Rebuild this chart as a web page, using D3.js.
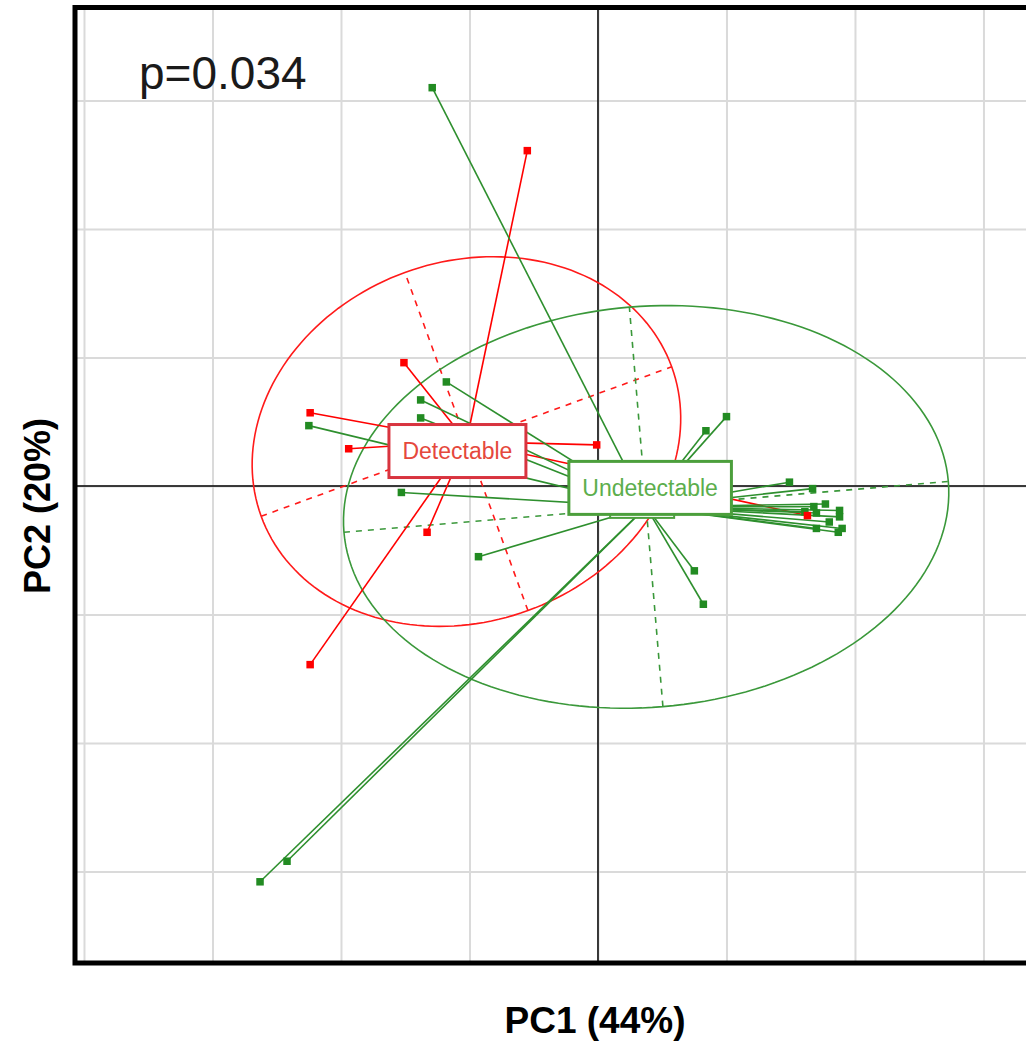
<!DOCTYPE html>
<html>
<head>
<meta charset="utf-8">
<script src="https://cdn.jsdelivr.net/npm/d3@7"></script>
<style>
  html, body { margin: 0; padding: 0; background: #fff; }
  svg { display: block; }
  .grid line { stroke: #dadada; stroke-width: 2; }
  .grid path { display: none; }
</style>
</head>
<body>
<svg id="chart" width="1026" height="1041"></svg>
<script>
// --- data (PC scores) ---
const groupNames = ["Detectable", "Undetectable"];

const detectableX = [-2.24, -1.94, -1.51, -0.55, -1.33, -2.24, -0.01, 1.63];
const detectableY = [0.57, 0.29, 0.96, 2.61, -0.36, -1.39, 0.32, -0.23];

const undetectableX = [-1.29, -2.25, -1.38, -1.38, -1.18, -1.53, -0.93, -2.63, -2.42,
  0.84, 1.00, 0.75, 0.82,
  1.49, 1.67, 1.77, 1.68, 1.88, 1.61, 1.70, 1.88, 1.80, 1.90, 1.70, 1.87];
const undetectableY = [3.10, 0.47, 0.67, 0.53, 0.81, -0.05, -0.55, -3.08, -2.92,
  0.43, 0.54, -0.66, -0.92,
  0.03, -0.02, -0.14, -0.16, -0.19, -0.20, -0.21, -0.24, -0.28, -0.33, -0.33, -0.36];

// ellipse semi-axes (PC units) and tilt (degrees)
const ellipseA = [1.70, 2.36];
const ellipseB = [1.40, 1.56];
const ellipseAngle = [20, 4.8];

const xGrid = [-4, -3, -2, -1, 0, 1, 2, 3];
const yGrid = [-3, -2, -1, 0, 1, 2, 3];

const pLabel = "p=0.034";
const xTitle = "PC1 (44%)";
const yTitle = "PC2 (20%)";

// --- layout ---
const svg = d3.select("#chart");
const panel = { left: 75, top: 7.5, right: 1030.5, bottom: 963 };

const x = d3.scaleLinear().domain([-4.07, 3.366]).range([panel.left, panel.right]);
const y = d3.scaleLinear().domain([-3.712, 3.724]).range([panel.bottom, panel.top]);

const colors = {
  point: ["#ff0000", "#228b22"],
  line: ["#ff0000", "#2e8f2e"],
  ellipse: ["#ff1a1a", "#3a983a"],
  labelStroke: ["#d8343f", "#4c9f3c"],
  labelText: ["#e5483c", "#5cae4c"]
};

svg.append("defs").append("clipPath").attr("id", "clip")
  .append("rect")
  .attr("x", panel.left).attr("y", panel.top)
  .attr("width", panel.right - panel.left).attr("height", panel.bottom - panel.top);

const plot = svg.append("g").attr("clip-path", "url(#clip)");

// grid
plot.append("g").attr("class", "grid")
  .attr("transform", `translate(0,${panel.bottom})`)
  .call(d3.axisBottom(x).tickValues(xGrid).tickSize(-(panel.bottom - panel.top)).tickFormat(""));
plot.append("g").attr("class", "grid")
  .attr("transform", `translate(${panel.left},0)`)
  .call(d3.axisLeft(y).tickValues(yGrid).tickSize(-(panel.right - panel.left)).tickFormat(""));

// zero lines
plot.append("line")
  .attr("x1", x(0)).attr("x2", x(0)).attr("y1", panel.top).attr("y2", panel.bottom)
  .attr("stroke", "#000").attr("stroke-width", 1.5);
plot.append("line")
  .attr("x1", panel.left).attr("x2", panel.right).attr("y1", y(0)).attr("y2", y(0))
  .attr("stroke", "#000").attr("stroke-width", 1.5);

// groups
const groups = [
  { name: groupNames[0], xs: detectableX, ys: detectableY },
  { name: groupNames[1], xs: undetectableX, ys: undetectableY }
].map((g, i) => {
  g.i = i;
  g.pts = g.xs.map((v, k) => [v, g.ys[k]]);
  g.cx = d3.mean(g.xs);
  g.cy = d3.mean(g.ys);
  return g;
});

const line = d3.line().x(d => x(d[0])).y(d => y(d[1]));

// ellipses with dashed axes
groups.forEach(g => {
  const a = ellipseA[g.i], b = ellipseB[g.i];
  const t = ellipseAngle[g.i] * Math.PI / 180;
  const ring = d3.range(0, 361, 2).map(deg => {
    const u = deg * Math.PI / 180;
    const ex = a * Math.cos(u), ey = b * Math.sin(u);
    return [g.cx + ex * Math.cos(t) - ey * Math.sin(t), g.cy + ex * Math.sin(t) + ey * Math.cos(t)];
  });
  plot.append("path").attr("d", line(ring))
    .attr("fill", "none").attr("stroke", colors.ellipse[g.i]).attr("stroke-width", 1.6);

  const major = [[g.cx - a * Math.cos(t), g.cy - a * Math.sin(t)], [g.cx + a * Math.cos(t), g.cy + a * Math.sin(t)]];
  const minor = [[g.cx + b * Math.sin(t), g.cy - b * Math.cos(t)], [g.cx - b * Math.sin(t), g.cy + b * Math.cos(t)]];
  [major, minor].forEach(seg => {
    plot.append("path").attr("d", line(seg))
      .attr("fill", "none").attr("stroke", colors.ellipse[g.i])
      .attr("stroke-width", 1.6).attr("stroke-dasharray", "6,6");
  });
});

// star lines (centroid -> sample)
groups.forEach(g => {
  plot.append("g").selectAll("line")
    .data(g.pts).enter().append("line")
    .attr("x1", x(g.cx)).attr("y1", y(g.cy))
    .attr("x2", d => x(d[0])).attr("y2", d => y(d[1]))
    .attr("stroke", colors.line[g.i]).attr("stroke-width", 1.6);
});

// points (squares) - green first, red on top where hidden
[groups[1], groups[0]].forEach(g => {
  plot.append("g").selectAll("rect")
    .data(g.pts).enter().append("rect")
    .attr("x", d => x(d[0]) - 3.75).attr("y", d => y(d[1]) - 3.75)
    .attr("width", 7.5).attr("height", 7.5)
    .attr("fill", colors.point[g.i]);
});

// group labels
const labelOffset = [[-9, 9.5], [4, -19]];
const labelFont = "Helvetica, 'Liberation Sans', Arial, sans-serif";

// small shadow box sitting under the Undetectable label
const ug = groups[1];
plot.append("rect")
  .attr("x", x(ug.cx) - 36).attr("y", y(ug.cy) - 6)
  .attr("width", 64).attr("height", 17)
  .attr("fill", "#fff").attr("stroke", colors.labelStroke[1]).attr("stroke-width", 2);

groups.forEach(g => {
  const lx = x(g.cx) + labelOffset[g.i][0];
  const ly = y(g.cy) + labelOffset[g.i][1];
  const lab = plot.append("g");
  const rect = lab.append("rect");
  const txt = lab.append("text")
    .attr("x", lx).attr("y", ly + 8)
    .attr("text-anchor", "middle")
    .attr("font-family", labelFont)
    .attr("font-size", 23)
    .attr("fill", colors.labelText[g.i])
    .text(g.name);
  const w = txt.node().getComputedTextLength() + 27;
  rect.attr("x", lx - w / 2).attr("y", ly - 26.5)
    .attr("width", w).attr("height", 53)
    .attr("fill", "#fff")
    .attr("stroke", colors.labelStroke[g.i]).attr("stroke-width", 3);
});

// panel border (left, top, bottom visible)
svg.append("rect")
  .attr("x", panel.left).attr("y", panel.top)
  .attr("width", panel.right - panel.left).attr("height", panel.bottom - panel.top)
  .attr("fill", "none").attr("stroke", "#000").attr("stroke-width", 5);

// texts
svg.append("text")
  .attr("x", 139).attr("y", 89)
  .attr("font-family", "'Helvetica Neue', Helvetica, 'Liberation Sans', Arial, sans-serif")
  .attr("font-weight", 300)
  .attr("font-size", 46)
  .attr("fill", "#1a1a1a")
  .text(pLabel);

svg.append("text")
  .attr("x", 595).attr("y", 1033)
  .attr("text-anchor", "middle")
  .attr("font-family", "Helvetica, 'Liberation Sans', Arial, sans-serif")
  .attr("font-weight", "bold")
  .attr("font-size", 37)
  .attr("fill", "#000")
  .text(xTitle);

svg.append("text")
  .attr("transform", "translate(50,506) rotate(-90)")
  .attr("text-anchor", "middle")
  .attr("font-family", "Helvetica, 'Liberation Sans', Arial, sans-serif")
  .attr("font-weight", "bold")
  .attr("font-size", 36)
  .attr("fill", "#000")
  .text(yTitle);
</script>
</body>
</html>
